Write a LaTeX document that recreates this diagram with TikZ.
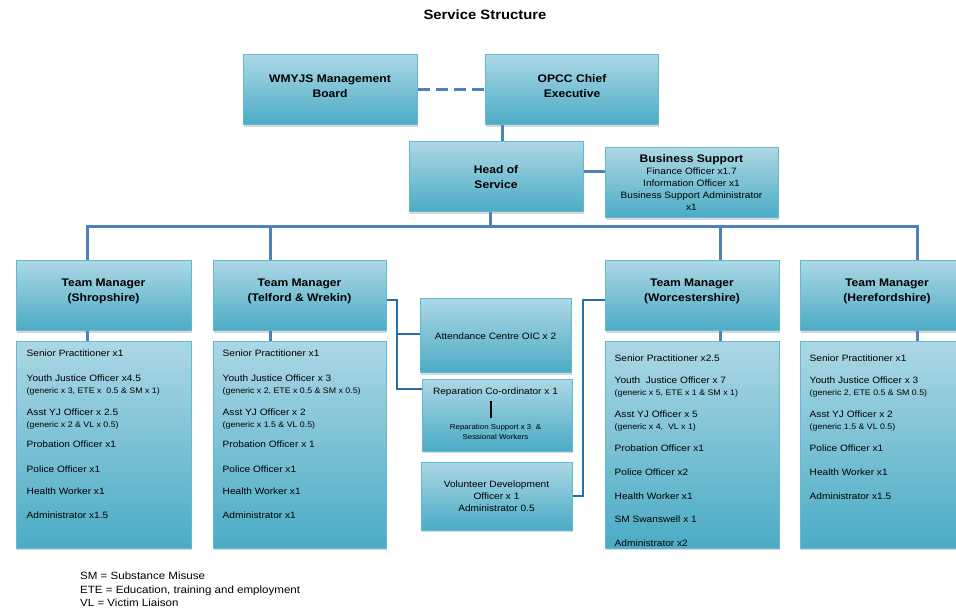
\documentclass[tikz,border=0pt]{standalone}
\usepackage{fontspec}
\setmainfont{Liberation Sans}[FakeStretch=1.1]
\usetikzlibrary{shadows}
\definecolor{boxtop}{RGB}{172,215,228}
\definecolor{boxbot}{RGB}{74,171,197}
\definecolor{boxedge}{RGB}{98,186,210}
\definecolor{linkblue}{RGB}{79,129,189}
\definecolor{sideblue}{RGB}{38,112,166}
\newcommand{\subline}[1]{{\fontsize{8}{12}\selectfont #1}}

\begin{document}
\begin{tikzpicture}[x=1pt,y=-1pt,
  box/.style={draw=boxedge,line width=1pt,top color=boxtop,bottom color=boxbot,inner sep=0pt,align=center,
    drop shadow={shadow xshift=0.6pt,shadow yshift=-1.8pt,fill=black!30,opacity=0.5}},
  mgrbox/.style={box,minimum width=174pt,minimum height=70pt},
  staffbox/.style={box,minimum width=174pt,minimum height=206pt},
  hdtxt/.style={inner sep=0pt,align=center,font=\bfseries\fontsize{11}{15}\selectfont},
  itemtxt/.style={inner sep=0pt,align=left,font=\fontsize{9.2}{12}\selectfont},
  link/.style={draw=linkblue,line width=3pt},
  side/.style={draw=sideblue,line width=1.3pt}]
\useasboundingbox (0,0) rectangle (956,609);
\node[font=\bfseries\fontsize{13.5}{15}\selectfont] (title) at (485,15) {Service Structure};
\node[mgrbox] (board) at (330,90) {};
\node[hdtxt] (boardtxt) at ([yshift=4pt]board.center) {WMYJS Management\\Board};
\node[mgrbox,minimum width=173pt] (opcc) at (572,90) {};
\node[hdtxt] (opcctxt) at ([yshift=3.5pt]opcc.center) {OPCC Chief\\Executive};
\node[mgrbox,font=\bfseries\fontsize{11}{15}\selectfont] (head) at (496,177) {Head of\\Service};
\node[mgrbox,minimum width=173pt] (business) at (691.5,183) {{\bfseries\fontsize{11}{12.5}\selectfont Business Support}\\[0pt]
  {\fontsize{9.2}{12.5}\selectfont Finance Officer x1.7}\\{\fontsize{9.2}{12.5}\selectfont Information Officer x1}\\
  {\fontsize{9.2}{12.5}\selectfont Business Support Administrator}\\{\fontsize{9.2}{12.5}\selectfont x1}};
\node[mgrbox,minimum width=175pt] (tmshrop) at (103.5,296) {};
\node[hdtxt] (tmshroptxt) at ([yshift=4.5pt]tmshrop.center) {Team Manager\\(Shropshire)};
\node[mgrbox,minimum width=173pt] (tmtelf) at (299.5,296) {};
\node[hdtxt] (tmtelftxt) at ([yshift=4.5pt]tmtelf.center) {Team Manager\\(Telford \& Wrekin)};
\node[mgrbox] (tmworc) at (692,296) {};
\node[hdtxt] (tmworctxt) at ([yshift=4.5pt]tmworc.center) {Team Manager\\(Worcestershire)};
\node[mgrbox] (tmhere) at (887,296) {};
\node[hdtxt] (tmheretxt) at ([yshift=4.5pt]tmhere.center) {Team Manager\\(Herefordshire)};
\node[staffbox,minimum width=175pt] (shropstaff) at (103.5,445) {};
\node[staffbox,minimum width=173pt] (telfstaff) at (299.5,445) {};
\node[staffbox] (worcstaff) at (692,445) {};
\node[staffbox] (herestaff) at (887,445) {};
\node[itemtxt,anchor=north west] (shroplist) at ([xshift=11pt,yshift=-8.5pt]shropstaff.north west) {Senior Practitioner x1\\[13pt]
  Youth Justice Officer x4.5\\\subline{(generic x 3, ETE x\ \ 0.5 \& SM x 1)}\\[10pt]
  Asst YJ Officer x 2.5\\\subline{(generic x 2 \& VL x 0.5)}\\[8pt]
  Probation Officer x1\\[13pt]Police Officer x1\\[10pt]Health Worker x1\\[12pt]Administrator x1.5};
\node[itemtxt,anchor=north west] (telflist) at ([xshift=10pt,yshift=-8.5pt]telfstaff.north west) {Senior Practitioner x1\\[13pt]
  Youth Justice Officer x 3\\\subline{(generic x 2, ETE x 0.5 \& SM x 0.5)}\\[10pt]
  Asst YJ Officer x 2\\\subline{(generic x 1.5 \& VL 0.5)}\\[8pt]
  Probation Officer x 1\\[13pt]Police Officer x1\\[10pt]Health Worker x1\\[12pt]Administrator x1};
\node[itemtxt,anchor=north west] (worclist) at ([xshift=10pt,yshift=-13pt]worcstaff.north west) {Senior Practitioner x2.5\\[10pt]
  Youth\ \ Justice Officer x 7\\\subline{(generic x 5, ETE x 1 \& SM x 1)}\\[10pt]
  Asst YJ Officer x 5\\\subline{(generic x 4,\ \ VL x 1)}\\[10pt]
  Probation Officer x1\\[12pt]Police Officer x2\\[12pt]Health Worker x1\\[11pt]SM Swanswell x 1\\[12pt]Administrator x2};
\node[itemtxt,anchor=north west] (herelist) at ([xshift=10pt,yshift=-13pt]herestaff.north west) {Senior Practitioner x1\\[10pt]
  Youth Justice Officer x 3\\\subline{(generic 2, ETE 0.5 \& SM 0.5)}\\[10pt]
  Asst YJ Officer x 2\\\subline{(generic 1.5 \& VL 0.5)}\\[10pt]
  Police Officer x1\\[12pt]Health Worker x1\\[12pt]Administrator x1.5};
\node[box,minimum width=151pt,minimum height=74pt,font=\fontsize{9.2}{12}\selectfont] (attend) at (495.5,336) {Attendance Centre OIC x 2};
\node[box,minimum width=150pt,minimum height=71pt] (repar) at (497,415.5) {};
\node[itemtxt] (repcoord) at (495.5,392) {Reparation Co-ordinator x 1};
\node[inner sep=0pt,align=center,font=\fontsize{7.2}{10}\selectfont] (repsupp) at (495.5,432) {Reparation Support x 3\ \ \&\\Sessional Workers};
\node[box,minimum width=151pt,minimum height=68pt,font=\fontsize{9.2}{12}\selectfont] (volun) at (496.5,496) {Volunteer Development\\Officer x 1\\Administrator 0.5};
\node[inner sep=0pt,anchor=north west,align=left,font=\fontsize{10.5}{13.5}\selectfont] (legend) at (80,572) {SM = Substance Misuse\\ETE = Education, training and employment\\VL = Victim Liaison};
\coordinate (dshrop) at (87,227);
\coordinate (dtelf) at (270,227);
\coordinate (dworc) at (720,227);
\coordinate (dhere) at (917,227);
\coordinate (trunkT) at (397,0);
\coordinate (trunkW) at (583,0);
\coordinate (telfout) at ([yshift=-4pt]tmtelf.east);
\coordinate (worcout) at ([yshift=-4pt]tmworc.west);
\coordinate (attin) at ([yshift=2pt]attend.west);
\coordinate (repin) at ([yshift=26.5pt]repar.west);
\draw[link,dash pattern=on 12pt off 6pt] (board.east) -- (opcc.west);
\draw[link] ([xshift=6pt]head.north) -- ([xshift=6pt]head.north |- opcc.south);
\draw[link] ([yshift=5pt]head.east) -- ([yshift=5pt]head.east -| business.west);
\draw[link] ([xshift=-6pt]head.south) -- ([xshift=-6pt]head.south |- dshrop);
\draw[link] (dshrop |- tmshrop.north) -- (dshrop) -- (dhere) -- (dhere |- tmhere.north);
\draw[link] (dtelf) -- (dtelf |- tmtelf.north);
\draw[link] (dworc) -- (dworc |- tmworc.north);
\draw[link] (dshrop |- tmshrop.south) -- (dshrop |- shropstaff.north);
\draw[link] (dtelf |- tmtelf.south) -- (dtelf |- telfstaff.north);
\draw[link] (dworc |- tmworc.south) -- (dworc |- worcstaff.north);
\draw[link] (dhere |- tmhere.south) -- (dhere |- herestaff.north);
\draw[side] (telfout) -| (trunkT |- repin) -- (repin);
\draw[side] (trunkT |- attin) -- (attin);
\draw[side] (worcout) -| (trunkW |- volun.east) -- (volun.east);
\draw[line width=1.2pt,shorten <=5pt,shorten >=6pt] ([xshift=-4.5pt]repcoord.south) -- ([xshift=-4.5pt]repcoord.south |- repsupp.north);
\end{tikzpicture}
\end{document}
